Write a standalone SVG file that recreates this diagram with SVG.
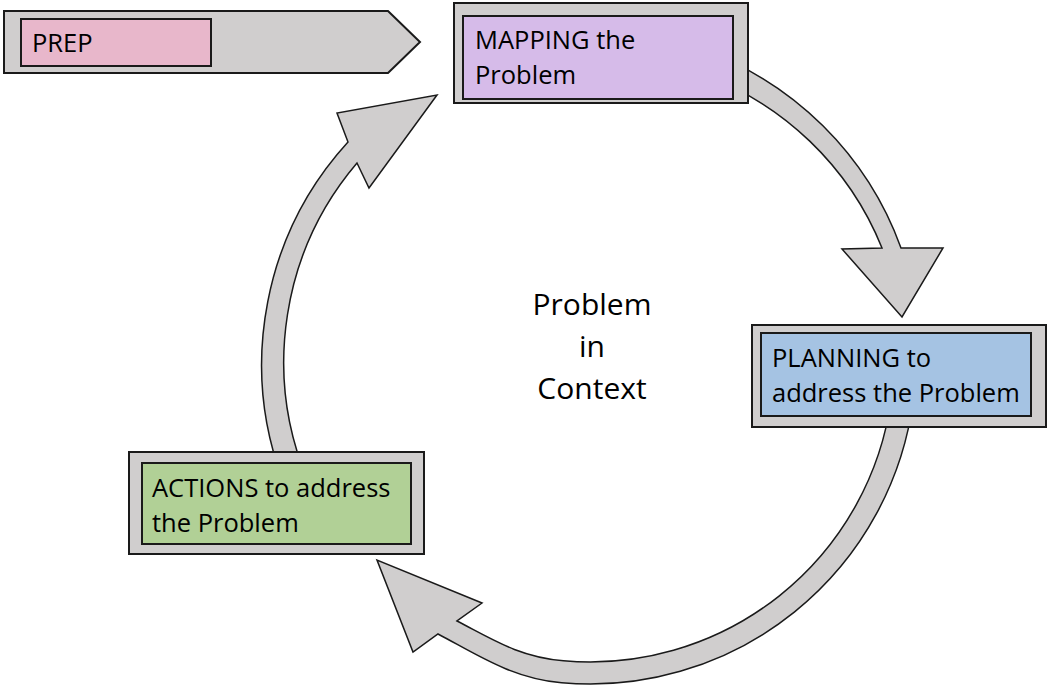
<svg xmlns="http://www.w3.org/2000/svg" width="1048" height="687" viewBox="0 0 1048 687">
<style>
.ring{fill:#D0CECE;stroke:#1a1a1a;stroke-width:1.5;stroke-linejoin:miter}
.outer{fill:#D0CECE;stroke:#1a1a1a;stroke-width:2}
.inner{stroke:#1a1a1a;stroke-width:2}
.t{font-family:"Open Sans","Noto Sans",sans-serif;font-size:25.5px;fill:#000}
.c{font-family:"Open Sans","Noto Sans",sans-serif;font-size:30px;fill:#000;text-anchor:middle}
</style>
<rect width="1048" height="687" fill="#fff"/>
<g id="connectors">
<path class="ring" d="M 700,48.9 A 330 330 0 0 1 901,248 L 943,248 L 902,317 L 842,249 L 882,248 A 307 307 0 0 0 700,73.4 Z"/>
<path class="ring" d="M 913.3,400 A 326 326 0 0 1 561.6,682.8 C 511.6,678.4 476,654 438,634 L 413,652 L 377,560 L 482,603 L 457,621 C 492,639 518.5,656.9 563.5,660.8 A 304 304 0 0 0 891.1,400 Z"/>
<path class="ring" d="M 282.6,480 A 330 330 0 0 1 348,142 L 337,113 L 437,95 L 369,188 L 357,163 A 307 307 0 0 0 307.4,480 Z"/>
</g>
<g id="prep">
<polygon class="outer" points="4,11 388,11 420,42 388,73 4,73"/>
<rect class="inner" x="21" y="19" width="190" height="47" fill="#E8B7CB"/>
<text class="t" x="32" y="52">PREP</text>
</g>
<g id="mapping">
<rect class="outer" x="454" y="3" width="294" height="100"/>
<rect class="inner" x="463" y="16" width="270" height="83" fill="#D6BBE9"/>
<text class="t" x="475" y="49">MAPPING the</text>
<text class="t" x="475" y="84">Problem</text>
</g>
<g id="planning">
<rect class="outer" x="752" y="325" width="294" height="102"/>
<rect class="inner" x="761" y="333" width="270" height="83" fill="#A5C3E3"/>
<text class="t" x="772" y="367">PLANNING to</text>
<text class="t" x="772" y="402">address the Problem</text>
</g>
<g id="actions">
<rect class="outer" x="129" y="452" width="295" height="102"/>
<rect class="inner" x="142" y="463" width="269" height="81" fill="#B1D096"/>
<text class="t" x="152" y="497">ACTIONS to address</text>
<text class="t" x="152" y="532">the Problem</text>
</g>
<g id="center">
<text class="c" x="592" y="315">Problem</text>
<text class="c" x="592" y="357">in</text>
<text class="c" x="592" y="399">Context</text>
</g>
</svg>
